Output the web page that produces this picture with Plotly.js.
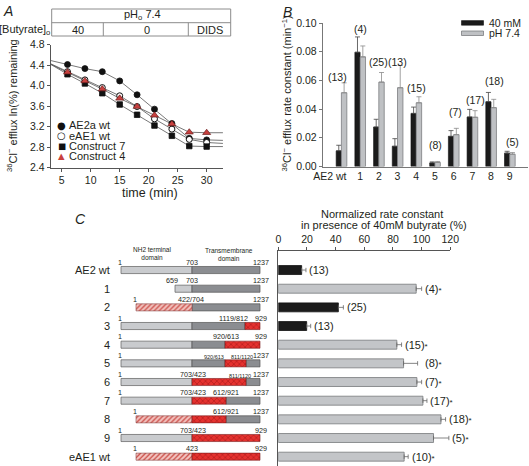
<!DOCTYPE html>
<html>
<head>
<meta charset="utf-8">
<script src="https://cdn.plot.ly/plotly-3.0.1.min.js"></script>
<style>
html,body{margin:0;padding:0;background:#ffffff;}
#chart{width:529px;height:466px;}
</style>
</head>
<body>
<div id="chart"></div>
<script>
// ===== Panel A: 36Cl- efflux time course =====
const timeMin    = [3, 6, 9, 12, 15, 18, 21, 24, 27, 30, 33];
const ae2aWt     = [4.49, 4.41, 4.33, 4.27, 4.09, 3.82, 3.54, 3.26, 2.97, 2.94, 2.93];
const eae1Wt     = [4.43, 4.27, 4.11, 3.96, 3.80, 3.59, 3.35, 3.15, 2.95, 2.89, 2.87];
const construct7 = [4.42, 4.22, 4.04, 3.85, 3.63, 3.43, 3.22, 3.02, 2.82, 2.81, 2.81];
const construct4 = [4.42, 4.26, 4.09, 3.93, 3.75, 3.59, 3.42, 3.25, 3.09, 3.08, 3.08];
const seriesNamesA = ['AE2a wt', 'eAE1 wt', 'Construct 7', 'Construct 4'];
const conditionLabels = ['40', '0', 'DIDS'];
const timeTicks = [5, 10, 15, 20, 25, 30];
const lnTicks = [2.4, 2.8, 3.2, 3.6, 4.0, 4.4, 4.8];

// ===== Panel B: efflux rate constants =====
const constructsB = ['AE2 wt', '1', '2', '3', '4', '5', '6', '7', '8', '9'];
const rate40mM    = [0.0109, 0.0796, 0.0275, 0.0141, 0.0370, 0.0025, 0.0210, 0.0345, 0.0451, 0.0093];
const rate40mMErr = [0.0039, 0.0107, 0.0054, 0.0053, 0.0044, 0.0007, 0.0040, 0.0053, 0.0065, 0.0013];
const ratePH74    = [0.0514, 0.0764, 0.0588, 0.0549, 0.0444, 0.0028, 0.0222, 0.0343, 0.0410, 0.0086];
const ratePH74Err = [0.0069, 0.0076, 0.0067, 0.0155, 0.0042, 0.0007, 0.0044, 0.0046, 0.0058, 0.0011];
const nB          = [13, 4, 25, 13, 15, 8, 7, 17, 18, 5];
const seriesNamesB = ['40 mM', 'pH 7.4'];

// ===== Panel C: normalized rate constants =====
const constructsC = ['AE2 wt', '1', '2', '3', '4', '5', '6', '7', '8', '9', 'eAE1 wt'];
const normRate    = [16.3, 96.2, 41.9, 19.8, 82.7, 87.4, 96.7, 100.9, 113.5, 108.3, 87.8];
const normRateErr = [3.0, 3.8, 3.5, 2.8, 3.3, 9.8, 3.3, 2.8, 3.2, 10.7, 2.8];
const nC          = [13, 4, 25, 13, 15, 8, 7, 17, 18, 5, 10];
const significant = [false, true, false, false, true, true, true, true, true, true, true];

// Construct schematic segments (map units along the drawn protein)
const segConstruct = ['AE2 wt','AE2 wt', '1','1', '2','2', '3','3','3', '4','4','4',
                      '5','5','5','5', '6','6','6', '7','7','7', '8','8','8', '9','9', 'eAE1 wt','eAE1 wt'];
const segKind = ['AE2 N','AE2 TM', 'AE2 N','AE2 TM', 'AE1 N','AE2 TM', 'AE2 N','AE2 TM','AE1 TM',
                 'AE2 N','AE2 TM','AE1 TM', 'AE2 N','AE2 TM','AE1 TM','AE2 TM', 'AE2 N','AE1 TM','AE2 TM',
                 'AE2 N','AE1 TM','AE2 TM', 'AE1 N','AE1 TM','AE2 TM', 'AE2 N','AE1 TM', 'AE1 N','AE1 TM'];
const segFrom = [0,71, 54,71, 15,71, 0,71,124, 0,71,104, 0,71,104,125, 0,71,125, 0,71,105, 15,71,105, 0,71, 15,71];
const segTo   = [71,139, 71,139, 71,139, 71,124,139, 71,104,139, 71,104,125,139, 71,125,139, 71,105,139, 71,105,139, 71,139, 71,139];

// Residue labels on the schematic
const lblConstruct = ['AE2 wt','AE2 wt','AE2 wt', '1','1','1', '2','2','2', '3','3','3', '4','4','4',
                      '5','5','5','5', '6','6','6','6', '7','7','7','7', '8','8','8', '9','9','9', 'eAE1 wt','eAE1 wt','eAE1 wt'];
const lblText = ['1','703','1237', '659','703','1237', '1','422/704','1237', '1','1119/812','929', '1','920/613','929',
                 '1','920/613','811/1120','1237', '1','703/423','811/1120','1237', '1','703/423','612/921','1237',
                 '1','612/921','1237', '1','703/423','929', '1','423','929'];
const lblAt = [-1,71,140, 51,71,140, 14,70,140, -1,112,140, -1,104.5,140,
               -1,93,120.5,140, -1,72,119,140, -1,72,105,140, 14,105,140, -1,72,140, 14,71,140];
const lblSmall = [0,0,0, 0,0,0, 0,0,0, 0,0,0, 0,0,0, 0,1,1,0, 0,0,1,0, 0,0,0,0, 0,0,0, 0,0,0, 0,0,0];

// ===== helpers / styling =====
const FONT = 'Liberation Sans, Arial, Helvetica, sans-serif';
const TXT = '#231f20';
const W = 529, H = 466;
const px = v => v / W;
const py = v => 1 - v / H;

const traces = [];

// ---- Panel A traces
const seriesA = [ae2aWt, eae1Wt, construct7, construct4];
const markerA = [
  {symbol: 'circle', size: 6, color: '#111', line: {color: '#111', width: 0.8}},
  {symbol: 'circle', size: 6, color: '#ffffff', line: {color: '#111', width: 1}},
  {symbol: 'square', size: 5.5, color: '#111', line: {color: '#111', width: 0.8}},
  {symbol: 'triangle-up', size: 7, color: '#c8413f', line: {color: '#6b1c1c', width: 0.7}}
];
seriesA.forEach((s) => {
  traces.push({type: 'scatter', mode: 'lines', x: timeMin, y: s, xaxis: 'x', yaxis: 'y',
    line: {color: '#555', width: 0.8}, cliponaxis: false, showlegend: false, hoverinfo: 'skip'});
});
seriesA.forEach((s, i) => {
  traces.push({type: 'scatter', mode: 'markers', x: timeMin, y: s, xaxis: 'x', yaxis: 'y',
    name: seriesNamesA[i], marker: markerA[i], cliponaxis: false, showlegend: false});
});

// ---- Panel B traces (category index along a linear axis)
const idxB = constructsB.map((c, i) => i);
const zerosB = constructsB.map(() => 0);
traces.push({type: 'bar', x: idxB, y: rate40mM, xaxis: 'x2', yaxis: 'y2', name: seriesNamesB[0],
  width: 0.28, offset: -0.28,
  marker: {color: '#1b1b1b', line: {color: '#111', width: 0.6}},
  error_y: {type: 'data', symmetric: false, array: rate40mMErr, arrayminus: zerosB, color: '#444', thickness: 0.8, width: 2.5}});
traces.push({type: 'bar', x: idxB, y: ratePH74, xaxis: 'x2', yaxis: 'y2', name: seriesNamesB[1],
  width: 0.29, offset: 0,
  marker: {color: '#bfc1c4', line: {color: '#7c7e81', width: 0.8}},
  error_y: {type: 'data', symmetric: false, array: ratePH74Err, arrayminus: zerosB, color: '#8a8a8a', thickness: 0.8, width: 2.5}});

// ---- Panel C bar trace
traces.push({type: 'bar', orientation: 'h', x: normRate, y: constructsC, xaxis: 'x3', yaxis: 'y3',
  width: 0.48,
  marker: {color: significant.map(s => s ? '#c3c5c8' : '#1b1b1b'),
           line: {color: significant.map(s => s ? '#76787b' : '#111'), width: 0.8}},
  error_x: {type: 'data', symmetric: false, array: normRateErr, arrayminus: normRateErr.map(() => 0),
            color: '#666', thickness: 0.8, width: 2.2}});

// ---- Schematic traces
const kindStyle = {
  'AE2 N':  {color: '#c9cbce', line: {color: '#5c5c5c', width: 0.7}},
  'AE2 TM': {color: '#8b8d91', line: {color: '#555', width: 0.7}},
  'AE1 N':  {color: '#f2c4c0', line: {color: '#8a4a4a', width: 0.6},
             pattern: {shape: '/', bgcolor: '#f3c6c2', fgcolor: '#c8423c', size: 3.5, solidity: 0.35}},
  'AE1 TM': {color: '#e23232', line: {color: '#7a1a1a', width: 0.6},
             pattern: {shape: 'x', bgcolor: '#e5322f', fgcolor: '#9c1414', size: 4, solidity: 0.22}}
};
Object.keys(kindStyle).forEach(k => {
  const idx = segKind.map((v, i) => v === k ? i : -1).filter(i => i >= 0);
  traces.push({type: 'bar', orientation: 'h', xaxis: 'x4', yaxis: 'y4', name: k,
    y: idx.map(i => segConstruct[i]),
    base: idx.map(i => segFrom[i]),
    x: idx.map(i => segTo[i] - segFrom[i]),
    width: 0.38, offset: -0.19,
    marker: kindStyle[k], hoverinfo: 'skip'});
});

// ===== annotations =====
const ann = [];
const txt = (o) => Object.assign({showarrow: false, font: {family: FONT, size: 11, color: TXT}}, o);

// panel letters
ann.push(txt({text: '<i>A</i>', xref: 'paper', yref: 'paper', x: px(1), y: py(1), xanchor: 'left', yanchor: 'top', font: {family: FONT, size: 14, color: TXT}}));
ann.push(txt({text: '<i>B</i>', xref: 'paper', yref: 'paper', x: px(281), y: py(1.5), xanchor: 'left', yanchor: 'top', font: {family: FONT, size: 14, color: TXT}}));
ann.push(txt({text: '<i>C</i>', xref: 'paper', yref: 'paper', x: px(72.5), y: py(209.5), xanchor: 'left', yanchor: 'top', font: {family: FONT, size: 14, color: TXT}}));

// Panel A header table
ann.push(txt({text: 'pH<sub>o</sub> 7.4', xref: 'paper', yref: 'paper', x: px(142), y: py(15.5), xanchor: 'center', yanchor: 'middle'}));
ann.push(txt({text: '[Butyrate]<sub>o</sub>', xref: 'paper', yref: 'paper', x: px(52), y: py(30), xanchor: 'right', yanchor: 'middle'}));
const condCenters = [77.7, 146.5, 209.5];
conditionLabels.forEach((c, i) => ann.push(txt({text: c, xref: 'paper', yref: 'paper', x: px(condCenters[i]), y: py(29.5), xanchor: 'center', yanchor: 'middle'})));

// Panel A legend (glyph + text)
const legGlyph = ['●', '○', '■', '▲'];
const legGlyphSize = [10, 10, 8.5, 8.5];
const legGlyphColor = ['#111', '#111', '#111', '#c8413f'];
const legRowY = [125.3, 135.7, 145.8, 155.8];
seriesNamesA.forEach((n, i) => {
  ann.push(txt({text: legGlyph[i], xref: 'paper', yref: 'paper', x: px(61.7), y: py(legRowY[i]), xanchor: 'center', yanchor: 'middle',
    font: {family: 'DejaVu Sans', size: legGlyphSize[i], color: legGlyphColor[i]}}));
  ann.push(txt({text: n, xref: 'paper', yref: 'paper', x: px(67), y: py(legRowY[i]), xanchor: 'left', yanchor: 'middle'}));
});

// Axis titles A
ann.push(txt({text: 'time (min)', xref: 'paper', yref: 'paper', x: px(150), y: py(193), xanchor: 'center', yanchor: 'middle', font: {family: FONT, size: 12.5, color: TXT}}));
ann.push(txt({text: '<sup>36</sup>Cl<sup>−</sup> efflux ln(%) remaining', xref: 'paper', yref: 'paper', x: px(12.5), y: py(105.5), textangle: -90, xanchor: 'center', yanchor: 'middle'}));

// Axis title B
ann.push(txt({text: '<sup>36</sup>Cl<sup>−</sup> efflux rate constant (min<sup>−1</sup>)', xref: 'paper', yref: 'paper', x: px(286.5), y: py(94), textangle: -90, xanchor: 'center', yanchor: 'middle'}));

// Panel B legend text
ann.push(txt({text: seriesNamesB[0], xref: 'paper', yref: 'paper', x: px(487), y: py(22.6), xanchor: 'left', yanchor: 'middle', font: {family: FONT, size: 10.5, color: TXT}}));
ann.push(txt({text: seriesNamesB[1], xref: 'paper', yref: 'paper', x: px(487), y: py(33.5), xanchor: 'left', yanchor: 'middle', font: {family: FONT, size: 10.5, color: TXT}}));

// Panel B (n) labels
const countLiftB = [5.6, 8, 10.3, 3.5, 9, 16, 16, 9.3, 11.3, 9.3];
const countShiftB = [-4, 0.7, 0, 0, 0, 1, 2, 3, 3, 3];
idxB.forEach((c, i) => {
  const top = Math.max(rate40mM[i] + rate40mMErr[i], ratePH74[i] + ratePH74Err[i]);
  ann.push(txt({text: '(' + nB[i] + ')', xref: 'x2', yref: 'y2', x: c, y: top, xanchor: 'center', yanchor: 'middle',
    yshift: countLiftB[i], xshift: countShiftB[i], font: {family: FONT, size: 10.5, color: TXT}}));
});

// Panel C title
ann.push(txt({text: 'Normalized rate constant', xref: 'paper', yref: 'paper', x: px(382), y: py(214), xanchor: 'center', yanchor: 'middle'}));
ann.push(txt({text: 'in presence of 40mM butyrate (%)', xref: 'paper', yref: 'paper', x: px(383.5), y: py(225.5), xanchor: 'center', yanchor: 'middle'}));

// Panel C right (n) labels
constructsC.forEach((c, i) => {
  const star = significant[i] ? '<span style="font-size:8px">*</span>' : '';
  ann.push(txt({text: '(' + nC[i] + ')' + star, xref: 'x3', yref: 'y3', x: normRate[i] + normRateErr[i], y: c,
    xanchor: 'left', yanchor: 'middle', xshift: i === 5 ? 5 : 1.5}));
});

// Panel C row labels
constructsC.forEach((c) => {
  ann.push(txt({text: c, xref: 'paper', yref: 'y3', x: px(112), y: c, xanchor: 'right', yanchor: 'middle'}));
});

// Schematic headers
ann.push(txt({text: 'NH2 terminal<br>domain', xref: 'paper', yref: 'paper', x: px(152), y: py(253.5), xanchor: 'center', yanchor: 'middle', font: {family: FONT, size: 6.5, color: TXT}}));
ann.push(txt({text: 'Transmembrane<br>domain', xref: 'paper', yref: 'paper', x: px(229), y: py(254), xanchor: 'center', yanchor: 'middle', font: {family: FONT, size: 6.5, color: TXT}}));

// Schematic residue labels
lblText.forEach((t, i) => {
  ann.push(txt({text: t, xref: 'x4', yref: 'y4', x: lblAt[i], y: lblConstruct[i], xanchor: 'center', yanchor: 'bottom',
    yshift: 1.5, font: {family: FONT, size: lblSmall[i] ? 5.5 : 7.2, color: TXT}}));
});

// ===== shapes =====
const shapes = [];
const line = (x0, y0, x1, y1, c) => ({type: 'line', xref: 'paper', yref: 'paper', x0: px(x0), y0: py(y0), x1: px(x1), y1: py(y1), line: {color: c || '#8c8c8c', width: 1}});
// Header table A
shapes.push({type: 'rect', xref: 'paper', yref: 'paper', x0: px(51.7), y0: py(36), x1: px(230.7), y1: py(9), line: {color: '#8c8c8c', width: 1}});
shapes.push(line(51.7, 22.7, 230.7, 22.7));
shapes.push(line(103.3, 22.7, 103.3, 36));
shapes.push(line(188.3, 22.7, 188.3, 36));
// Legend B boxes
shapes.push({type: 'rect', xref: 'paper', yref: 'paper', x0: px(461.5), y0: py(25.2), x1: px(483.5), y1: py(20.6), fillcolor: '#1b1b1b', line: {color: '#111', width: 0.6}});
shapes.push({type: 'rect', xref: 'paper', yref: 'paper', x0: px(461.5), y0: py(35.5), x1: px(483.5), y1: py(31), fillcolor: '#bfc1c4', line: {color: '#7c7e81', width: 0.8}});

// ===== layout =====
const axBase = {showgrid: false, zeroline: false, showline: true, linecolor: '#555', linewidth: 1,
  ticks: 'outside', ticklen: 3, tickwidth: 1, tickcolor: '#555', tickfont: {family: FONT, size: 10.5, color: TXT}, fixedrange: true};

// label anchor along panel B's category axis (first label sits left of its bars)
const tickAtB = idxB.map(i => i === 0 ? -0.62 : i);

const layout = {
  width: W, height: H, margin: {l: 0, r: 0, t: 0, b: 0},
  paper_bgcolor: '#ffffff', plot_bgcolor: 'rgba(0,0,0,0)',
  font: {family: FONT, size: 10.5, color: TXT},
  showlegend: false, barmode: 'overlay', hovermode: false,
  xaxis: Object.assign({}, axBase, {domain: [px(50.7), px(222.9)], range: [3.1, 32.8], tickvals: timeTicks, anchor: 'y'}),
  yaxis: Object.assign({}, axBase, {domain: [py(167.6), py(44.5)], range: [2.4, 4.8], tickvals: lnTicks, tickformat: '.1f', anchor: 'x'}),
  xaxis2: Object.assign({}, axBase, {domain: [px(322.7), px(527.5)], type: 'linear', range: [-1.0, 9.95], ticks: '', anchor: 'y2',
    linecolor: '#777', tickangle: 0, tickmode: 'array', tickvals: tickAtB, ticktext: constructsB, ticklabelshift: 1.5}),
  yaxis2: Object.assign({}, axBase, {domain: [py(166.5), py(23)], range: [0, 0.1], dtick: 0.02, tickformat: '.2f', anchor: 'x2', linecolor: '#777', tickcolor: '#777'}),
  xaxis3: Object.assign({}, axBase, {domain: [px(278.3), px(450.3)], range: [0, 120], dtick: 20, side: 'top', anchor: 'y3'}),
  yaxis3: Object.assign({}, axBase, {domain: [0, py(251)], type: 'category', categoryarray: constructsC, categoryorder: 'array',
    range: [10.5, -1.02], ticks: '', showticklabels: false, anchor: 'x3'}),
  xaxis4: {domain: [px(115), px(267)], range: [-6, 146], visible: false, anchor: 'y4', fixedrange: true},
  yaxis4: {domain: [0, py(251)], type: 'category', categoryarray: constructsC, categoryorder: 'array',
    range: [10.5, -1.02], visible: false, anchor: 'x4', fixedrange: true},
  annotations: ann,
  shapes: shapes
};

Plotly.newPlot('chart', traces, layout, {displayModeBar: false, staticPlot: true});
</script>
</body>
</html>
